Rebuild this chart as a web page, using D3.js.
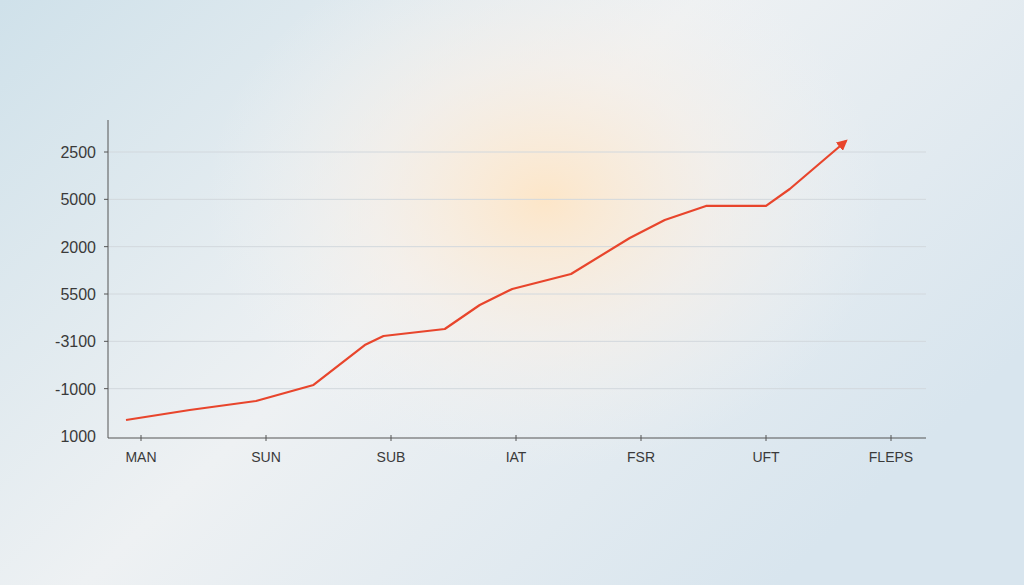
<!DOCTYPE html>
<html><head><meta charset="utf-8">
<script src="https://cdn.jsdelivr.net/npm/d3@7"></script>
<style>body{margin:0;overflow:hidden}svg{display:block}</style>
</head><body>
<script>
// tick labels as printed on the chart
const yTicks = [0, 500, 1000, 1500, 2000, 2500, 3000];
const yLabels = ["1000", "-1000", "-3100", "5500", "2000", "5000", "2500"];
const xCats = ["MAN", "SUN", "SUB", "IAT", "FSR", "UFT", "FLEPS"];
// line points, x in category units, y in axis units
const xs = [-0.12, 0.39, 0.92, 1.38, 1.79, 1.94, 2.43, 2.71, 2.97, 3.44, 3.91, 4.19, 4.52, 5.0, 5.19, 5.64];
const ys = [169, 275, 370, 539, 961, 1056, 1130, 1384, 1553, 1711, 2092, 2282, 2430, 2430, 2609, 3116];

const W = 1024, H = 585;
const svg = d3.select("body").append("svg").attr("width", W).attr("height", H);
const defs = svg.append("defs");

const bg = defs.append("linearGradient").attr("id", "bg").attr("x1", 0).attr("y1", 0).attr("x2", 1).attr("y2", 0.6);
bg.append("stop").attr("offset", 0).attr("stop-color", "#cfe1ea");
bg.append("stop").attr("offset", 0.5).attr("stop-color", "#eef1f3");
bg.append("stop").attr("offset", 1).attr("stop-color", "#d8e5ee");
svg.append("rect").attr("width", W).attr("height", H).attr("fill", "url(#bg)");

const glow = defs.append("radialGradient").attr("id", "glow");
glow.append("stop").attr("offset", 0).attr("stop-color", "#fde6c8").attr("stop-opacity", 1);
glow.append("stop").attr("offset", 0.5).attr("stop-color", "#f8efe6").attr("stop-opacity", 0.6);
glow.append("stop").attr("offset", 1).attr("stop-color", "#f3f3f3").attr("stop-opacity", 0);
svg.append("ellipse").attr("cx", 545).attr("cy", 200).attr("rx", 340).attr("ry", 270).attr("fill", "url(#glow)");

const x = d3.scaleLinear().domain([0, 6]).range([141, 891]);
const y = d3.scaleLinear().domain([0, 3000]).range([436, 152]);

// grid
svg.append("g").selectAll("line").data(yTicks.slice(1)).join("line")
  .attr("x1", 108).attr("x2", 926).attr("y1", d => y(d)).attr("y2", d => y(d))
  .attr("stroke", "#d2d8dd").attr("stroke-width", 1);

// axes
svg.append("line").attr("x1", 108).attr("x2", 108).attr("y1", 120).attr("y2", 438).attr("stroke", "#555");
svg.append("line").attr("x1", 108).attr("x2", 926).attr("y1", 438).attr("y2", 438).attr("stroke", "#555");
svg.append("g").selectAll("line").data(d3.range(0, 7)).join("line")
  .attr("x1", d => x(d)).attr("x2", d => x(d)).attr("y1", 435).attr("y2", 441).attr("stroke", "#555");
svg.append("g").selectAll("line").data(yTicks.slice(1)).join("line")
  .attr("x1", 104).attr("x2", 108).attr("y1", d => y(d)).attr("y2", d => y(d)).attr("stroke", "#555");

svg.append("g").selectAll("text").data(yTicks).join("text")
  .attr("x", 96).attr("y", d => y(d) + 6).attr("text-anchor", "end")
  .attr("font-family", "Liberation Sans, Arial, sans-serif").attr("font-size", 16).attr("fill", "#3a3a3a")
  .text((d, i) => yLabels[i]);

svg.append("g").selectAll("text").data(xCats).join("text")
  .attr("x", (d, i) => x(i)).attr("y", 462).attr("text-anchor", "middle")
  .attr("font-family", "Liberation Sans, Arial, sans-serif").attr("font-size", 14).attr("fill", "#3a3a3a")
  .text(d => d);

// arrow marker
defs.append("marker").attr("id", "arr").attr("viewBox", "0 0 10 10").attr("refX", 8).attr("refY", 5)
  .attr("markerWidth", 5).attr("markerHeight", 5).attr("orient", "auto")
  .append("path").attr("d", "M0,0L10,5L0,10z").attr("fill", "#e8452c");

const pts = xs.map((v, i) => [v, ys[i]]);
svg.append("path").datum(pts)
  .attr("d", d3.line().x(d => x(d[0])).y(d => y(d[1])))
  .attr("fill", "none").attr("stroke", "#e8452c").attr("stroke-width", 2.2)
  .attr("stroke-linejoin", "round").attr("marker-end", "url(#arr)");
</script>
</body></html>
